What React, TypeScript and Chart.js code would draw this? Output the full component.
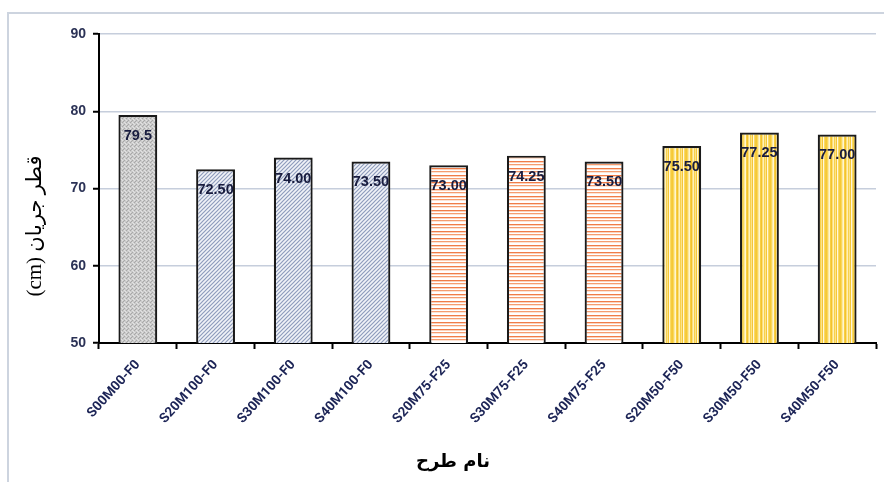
import React, { useEffect, useRef } from "react";
import { Chart, registerables } from "chart.js";

Chart.register(...registerables);

// Mix designs and measured flow diameter (cm)
const categories = [
  "S00M00-F0",
  "S20M100-F0",
  "S30M100-F0",
  "S40M100-F0",
  "S20M75-F25",
  "S30M75-F25",
  "S40M75-F25",
  "S20M50-F50",
  "S30M50-F50",
  "S40M50-F50",
];
const flowDiameter = [79.5, 72.5, 74.0, 73.5, 73.0, 74.25, 73.5, 75.5, 77.25, 77.0];
const valueLabels = ["79.5", "72.50", "74.00", "73.50", "73.00", "74.25", "73.50", "75.50", "77.25", "77.00"];
// fill family per bar: control, slag-only, slag+fly ash 25, slag+fly ash 50
const fillGroups = ["dots", "diag", "diag", "diag", "hstripe", "hstripe", "hstripe", "vstripe", "vstripe", "vstripe"];
const yTicks = [50, 60, 70, 80, 90];

const yTitle = "قطر جریان (cm)";
const xTitle = "نام طرح";

function tile(w: number, h: number) {
  const c = document.createElement("canvas");
  c.width = w;
  c.height = h;
  return c;
}

function makePatterns(ctx: CanvasRenderingContext2D) {
  // fine gray stipple
  const g = tile(4, 4);
  const gc = g.getContext("2d")!;
  gc.fillStyle = "#cbcbcb";
  gc.fillRect(0, 0, 4, 4);
  gc.fillStyle = "#a8a8a8";
  [[0, 0], [2, 2], [3, 1]].forEach(([x, y]) => gc.fillRect(x, y, 1, 1));
  gc.fillStyle = "#e2e2e2";
  [[1, 3], [2, 0], [0, 2]].forEach(([x, y]) => gc.fillRect(x, y, 1, 1));

  // diagonal blue-gray hatch
  const d = tile(4, 4);
  const dc = d.getContext("2d")!;
  dc.fillStyle = "#f1f3f8";
  dc.fillRect(0, 0, 4, 4);
  dc.strokeStyle = "#8e9cbc";
  dc.lineWidth = 1.2;
  dc.beginPath();
  dc.moveTo(0, 4);
  dc.lineTo(4, 0);
  dc.moveTo(-1, 1);
  dc.lineTo(1, -1);
  dc.moveTo(3, 5);
  dc.lineTo(5, 3);
  dc.stroke();

  // horizontal orange stripes
  const hColors = ["#f07c48", "#fbd3bd", "#ffffff", "#f59d70", "#fde3d4", "#ffffff", "#ffffff"];
  const h = tile(1, hColors.length);
  const hc = h.getContext("2d")!;
  hColors.forEach((col, i) => {
    hc.fillStyle = col;
    hc.fillRect(0, i, 1, 1);
  });

  // vertical yellow stripes
  const vColors = [
    "#f6c936", "#f9d75a", "#fde9a0", "#fff6d0", "#f7cf45", "#f4c22e", "#fbe07c",
    "#fff0b8", "#f8d14c", "#fce48a", "#f5c638", "#fff8dc", "#f9da66", "#f6cb3e",
  ];
  const v = tile(vColors.length, 1);
  const vc = v.getContext("2d")!;
  vColors.forEach((col, i) => {
    vc.fillStyle = col;
    vc.fillRect(i, 0, 1, 1);
  });

  return {
    dots: ctx.createPattern(g, "repeat")!,
    diag: ctx.createPattern(d, "repeat")!,
    hstripe: ctx.createPattern(h, "repeat")!,
    vstripe: ctx.createPattern(v, "repeat")!,
  } as Record<string, CanvasPattern>;
}

const valueLabelPlugin = {
  id: "valueLabels",
  afterDatasetsDraw(chart: any) {
    const ctx = chart.ctx as CanvasRenderingContext2D;
    const meta = chart.getDatasetMeta(0);
    ctx.save();
    ctx.font = "bold 14.5px 'Liberation Sans', Arial, sans-serif";
    ctx.fillStyle = "#181c3e";
    ctx.textAlign = "center";
    ctx.textBaseline = "middle";
    meta.data.forEach((bar: any, i: number) => {
      ctx.fillText(valueLabels[i], bar.x, bar.y + 21);
    });
    ctx.restore();
  },
};

const titlesPlugin = {
  id: "axisTitles",
  afterDraw(chart: any) {
    const ctx = chart.ctx as CanvasRenderingContext2D;
    ctx.save();
    ctx.fillStyle = "#000000";
    ctx.textAlign = "center";
    ctx.textBaseline = "middle";
    (ctx as any).direction = "rtl";
    ctx.font = "bold 18px 'DejaVu Sans', sans-serif";
    ctx.fillText(xTitle, 453, 462);
    ctx.translate(35, 226);
    ctx.rotate(-Math.PI / 2);
    ctx.font = "21px 'Liberation Serif', 'DejaVu Sans', serif";
    ctx.fillText(yTitle, 0, 0);
    ctx.restore();
  },
};

export default function App() {
  const canvasRef = useRef<HTMLCanvasElement | null>(null);

  useEffect(() => {
    const canvas = canvasRef.current;
    if (!canvas) return;
    const ctx = canvas.getContext("2d")!;
    const patterns = makePatterns(ctx);

    const chart = new Chart(canvas, {
      type: "bar",
      data: {
        labels: categories,
        datasets: [
          {
            data: flowDiameter,
            backgroundColor: fillGroups.map((k) => patterns[k]),
            borderColor: "#1a1a1a",
            borderWidth: 2.2,
            borderSkipped: false,
            barPercentage: 0.5,
            categoryPercentage: 1,
          },
        ],
      },
      options: {
        responsive: false,
        animation: false,
        events: [],
        layout: { padding: { top: 34, right: 8, left: 0, bottom: 0 } },
        plugins: {
          legend: { display: false },
          tooltip: { enabled: false },
        },
        scales: {
          x: {
            afterFit(scale: any) {
              scale.height = 139;
            },
            grid: {
              offset: true,
              drawOnChartArea: false,
              drawTicks: true,
              tickLength: 6,
              tickColor: "#000000",
              tickWidth: 2,
            },
            border: { color: "#000000", width: 2 },
            ticks: {
              minRotation: 48,
              maxRotation: 48,
              autoSkip: false,
              padding: 8,
              color: "#1c2456",
              font: { family: "Roboto, 'Liberation Sans', Arial, sans-serif", size: 13.5, weight: "bold" },
            },
          },
          y: {
            min: 50,
            max: 90,
            afterFit(scale: any) {
              scale.width = 99;
            },
            afterBuildTicks(scale: any) {
              scale.ticks = yTicks.map((v) => ({ value: v }));
            },
            grid: {
              color: "#c6cedc",
              lineWidth: 1.5,
              drawTicks: true,
              tickLength: 6,
              tickColor: "#000000",
              tickWidth: 2,
            },
            border: { color: "#000000", width: 2 },
            ticks: {
              padding: 7,
              color: "#2b3256",
              font: { family: "'Liberation Sans', Arial, sans-serif", size: 14, weight: "bold" },
            },
          },
        },
      },
      plugins: [valueLabelPlugin, titlesPlugin],
    } as any);

    return () => chart.destroy();
  }, []);

  return (
    <div style={{ position: "absolute", left: 0, top: 0, width: 884, height: 482, background: "#ffffff" }}>
      <div
        style={{
          position: "absolute",
          left: 7,
          top: 12,
          width: 884 - 7,
          height: 482 - 12,
          borderLeft: "2px solid #cdd4df",
          borderTop: "2px solid #cdd4df",
          boxSizing: "border-box",
        }}
      />
      <canvas ref={canvasRef} width={884} height={482} style={{ position: "absolute", left: 0, top: 0 }} />
    </div>
  );
}
